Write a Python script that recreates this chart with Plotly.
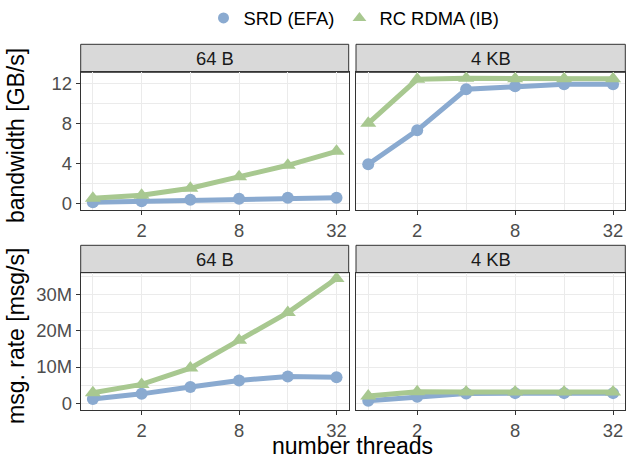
import math
import plotly.graph_objects as go
from plotly.subplots import make_subplots

threads = [1, 2, 4, 8, 16, 32]
series_names = ["SRD (EFA)", "RC RDMA (IB)"]
panel_labels = ["64 B", "4 KB"]

# bandwidth [GB/s]
bw_srd_64 = [0.1, 0.2, 0.35, 0.45, 0.55, 0.55]
bw_rc_64 = [0.5, 0.8, 1.5, 2.65, 3.8, 5.2]
bw_srd_4k = [3.9, 7.3, 11.4, 11.7, 11.9, 11.9]
bw_rc_4k = [8.0, 12.4, 12.5, 12.45, 12.45, 12.45]

# message rate [msg/s]
mr_srd_64 = [1.2e6, 2.6e6, 4.5e6, 6.3e6, 7.4e6, 7.2e6]
mr_rc_64 = [2.9e6, 5.2e6, 9.7e6, 17.4e6, 25.0e6, 34.4e6]
mr_srd_4k = [0.7e6, 1.8e6, 2.7e6, 2.8e6, 2.8e6, 2.8e6]
mr_rc_4k = [2.0e6, 3.2e6, 3.1e6, 3.1e6, 3.1e6, 3.1e6]

x_ticks = [2, 8, 32]
x_minor = [1, 4, 16]
bw_ticks = [0, 4, 8, 12]
mr_ticks = [0, 10e6, 20e6, 30e6]
mr_ticktext = ["0", "10M", "20M", "30M"]

W, H = 626, 457
BLUE = "#8AAAD0"
GREEN = "#A8C890"
FONT = "Liberation Sans, Arial, Helvetica, sans-serif"
SMALL = 18.4
BIG = 23

fig = make_subplots(rows=2, cols=2)

panels = [
    (1, 1, bw_srd_64, bw_rc_64),
    (1, 2, bw_srd_4k, bw_rc_4k),
    (2, 1, mr_srd_64, mr_rc_64),
    (2, 2, mr_srd_4k, mr_rc_4k),
]
for r, c, srd, rc in panels:
    fig.add_trace(go.Scatter(x=threads, y=srd, mode="lines+markers", showlegend=False,
                             line=dict(color=BLUE, width=5),
                             marker=dict(symbol="circle", size=12, color=BLUE)), row=r, col=c)
    fig.add_trace(go.Scatter(x=threads, y=rc, mode="lines+markers", showlegend=False,
                             line=dict(color=GREEN, width=5),
                             marker=dict(symbol="triangle-up", size=14, color=GREEN)), row=r, col=c)

# legend-only entries (markers only)
fig.add_trace(go.Scatter(x=[None], y=[None], mode="markers", name=series_names[0],
                         marker=dict(symbol="circle", size=11, color=BLUE)))
fig.add_trace(go.Scatter(x=[None], y=[None], mode="markers", name=series_names[1],
                         marker=dict(symbol="triangle-up", size=12, color=GREEN)))

def px_x(v):
    return v / W

def px_y(v):
    return 1 - v / H

col_dom = {1: [px_x(80.7), px_x(348.7)], 2: [px_x(356), px_x(625.3)]}
row_dom = {1: [px_y(210), px_y(72.3)], 2: [px_y(410), px_y(272.7)]}
strip_px = {1: (44.3, 72.3), 2: (245.3, 272.7)}

lx = math.log10(2)
xrange_ = [math.log10(threads[0]) - 0.25 * lx, math.log10(threads[-1]) + 0.25 * lx]

axis_common = dict(showline=True, mirror=True, linecolor="#333333", linewidth=1,
                   showgrid=True, gridcolor="#EBEBEB", gridwidth=1, zeroline=False,
                   ticks="outside", ticklen=4, tickcolor="#333333", tickwidth=1,
                   tickfont=dict(family=FONT, size=SMALL, color="#4D4D4D"), automargin=False)

for r in (1, 2):
    for c in (1, 2):
        fig.update_xaxes(row=r, col=c, domain=col_dom[c], type="log", range=xrange_,
                         tickmode="array", tickvals=x_ticks, ticktext=[str(v) for v in x_ticks],
                         minor=dict(tickmode="array", tickvals=x_minor, showgrid=True,
                                    gridcolor="#EBEBEB", gridwidth=1, ticks=""),
                         **axis_common)
        if r == 1:
            fig.update_yaxes(row=r, col=c, domain=row_dom[r], range=[-0.67, 13.1],
                             tickmode="array", tickvals=bw_ticks,
                             minor=dict(dtick=2, tick0=0, showgrid=True, gridcolor="#EBEBEB",
                                        gridwidth=1, ticks=""),
                             showticklabels=(c == 1), **axis_common)
        else:
            fig.update_yaxes(row=r, col=c, domain=row_dom[r], range=[-1.85e6, 36.0e6],
                             tickmode="array", tickvals=mr_ticks, ticktext=mr_ticktext,
                             minor=dict(dtick=5e6, tick0=0, showgrid=True, gridcolor="#EBEBEB",
                                        gridwidth=1, ticks=""),
                             showticklabels=(c == 1), **axis_common)
        if c == 2:
            fig.update_yaxes(row=r, col=c, ticks="")

# strips
for r in (1, 2):
    for c in (1, 2):
        y0, y1 = strip_px[r]
        fig.add_shape(type="rect", xref="paper", yref="paper",
                      x0=col_dom[c][0], x1=col_dom[c][1], y0=px_y(y1), y1=px_y(y0),
                      fillcolor="#D9D9D9", line=dict(color="#333333", width=1), layer="below")
        fig.add_annotation(xref="paper", yref="paper", x=sum(col_dom[c]) / 2,
                           y=px_y((y0 + y1) / 2), text=panel_labels[c - 1], showarrow=False,
                           xanchor="center", yanchor="middle",
                           font=dict(family=FONT, size=SMALL, color="#1A1A1A"))

# axis titles
fig.add_annotation(xref="paper", yref="paper", x=px_x(16), y=px_y(136), text="bandwidth [GB/s]",
                   textangle=-90, showarrow=False, xanchor="center", yanchor="middle",
                   font=dict(family=FONT, size=BIG, color="black"))
fig.add_annotation(xref="paper", yref="paper", x=px_x(16), y=px_y(336), text="msg. rate [msg/s]",
                   textangle=-90, showarrow=False, xanchor="center", yanchor="middle",
                   font=dict(family=FONT, size=BIG, color="black"))
fig.add_annotation(xref="paper", yref="paper", x=px_x(352), y=px_y(446), text="number threads",
                   showarrow=False, xanchor="center", yanchor="middle",
                   font=dict(family=FONT, size=BIG, color="black"))

fig.update_layout(
    width=W, height=H,
    margin=dict(l=0, r=0, t=0, b=0, autoexpand=False),
    paper_bgcolor="white", plot_bgcolor="white",
    showlegend=True,
    legend=dict(orientation="h", x=px_x(354), y=px_y(18), xanchor="center", yanchor="middle",
                font=dict(family=FONT, size=SMALL, color="black"), bgcolor="rgba(0,0,0,0)",
                itemwidth=30),
)

fig.write_html("out.html", config={"displayModeBar": False},
               post_script="document.body.style.margin='0';document.body.style.overflow='hidden';")
